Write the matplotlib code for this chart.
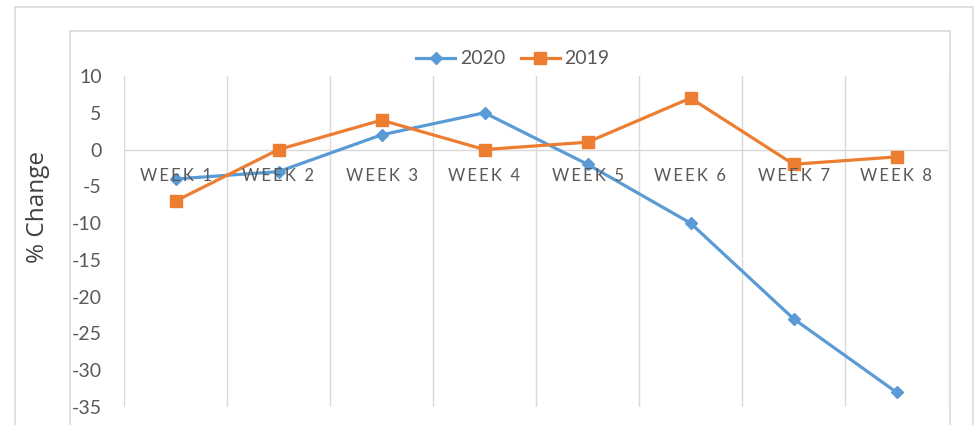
import matplotlib
matplotlib.use("Agg")
import matplotlib.pyplot as plt
from matplotlib.patches import Rectangle
import numpy as np

plt.rcParams['font.family'] = ['Lato', 'DejaVu Sans']

weeks = ["WEEK 1", "WEEK 2", "WEEK 3", "WEEK 4", "WEEK 5", "WEEK 6", "WEEK 7", "WEEK 8"]
y2020 = [-4, -3, 2, 5, -2, -10, -23, -33]
y2019 = [-7, 0, 4, 0, 1, 7, -2, -1]
yticks = [-35, -30, -25, -20, -15, -10, -5, 0, 5, 10]

W, H = 977, 425
fig = plt.figure(figsize=(W / 100, H / 100), dpi=100)

def fx(px):
    return px / W

def fy(py):
    return 1 - py / H

# chart borders (outer and inner), bottoms clipped by figure edge
fig.add_artist(Rectangle((fx(15), fy(460)), fx(973) - fx(15), fy(7) - fy(460),
                         transform=fig.transFigure, fill=False, edgecolor='#d9d9d9', lw=1.2))
fig.add_artist(Rectangle((fx(70), fy(460)), fx(950) - fx(70), fy(31) - fy(460),
                         transform=fig.transFigure, fill=False, edgecolor='#d9d9d9', lw=1.2))

ax = fig.add_axes([fx(124), fy(407), fx(948) - fx(124), fy(76) - fy(407)])
ax.set_facecolor('none')

x = np.arange(len(weeks))
ax.set_xlim(-0.5, len(weeks) - 0.5)
ax.set_ylim(-35, 10)

for b in np.arange(len(weeks) + 1) - 0.5:
    ax.axvline(b, color='#d9d9d9', lw=1.0, zorder=1)
ax.axhline(0, color='#d9d9d9', lw=1.0, zorder=1)

blue = '#5B9BD5'
orange = '#ED7D31'
ax.plot(x, y2020, color=blue, lw=2.3, marker='D', markersize=6.5, label='2020', zorder=3)
ax.plot(x, y2019, color=orange, lw=2.3, marker='s', markersize=8, label='2019', zorder=3)

for s in ax.spines.values():
    s.set_visible(False)

ax.set_yticks(yticks)
ax.set_yticklabels([str(v) for v in yticks])
ax.tick_params(axis='y', length=0, pad=16, labelsize=14, labelcolor='#595959')

spaced = ['\u2009'.join(list(w)) for w in weeks]
ax.set_xticks(x)
ax.set_xticklabels([])
for xi, lab in zip(x, spaced):
    ax.annotate(lab, xy=(xi, 0), xytext=(0, -26), textcoords='offset pixels',
                ha='center', va='center', fontsize=12, color='#595959',
                family=['Lato', 'DejaVu Sans'])
ax.tick_params(axis='x', length=0)

ax.set_ylabel('% Change', fontsize=17.5, color='#404040', family=['Open Sans', 'DejaVu Sans'])
ax.yaxis.set_label_coords(-0.09, 0.605)

leg = fig.legend(loc='center', bbox_to_anchor=(fx(513), fy(59)), ncol=2, frameon=False,
                 fontsize=14, handlelength=2.0, handletextpad=0.25, columnspacing=0.8,
                 labelcolor='#595959')

fig.savefig('out.png', dpi=100)
